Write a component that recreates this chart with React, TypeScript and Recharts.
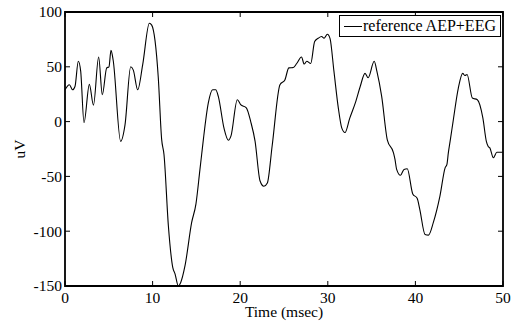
import React from "react";
import { LineChart, Line, XAxis, YAxis, ReferenceArea } from "recharts";

const timeMs = [
  0, 0.5, 0.87, 1.14, 1.52, 1.79, 2.17, 2.78, 3.25, 3.84, 4.26, 4.76, 5.02, 5.25, 5.5,
  6.35, 6.85, 7.5, 7.8, 8.3, 8.87, 9.63, 9.9, 10.65, 11.03, 11.3, 11.8, 12.3, 12.56,
  12.94, 13.2, 13.7, 14.46, 14.95, 15.4, 15.6, 15.8, 16.36, 16.86, 17.2, 17.5, 18.15,
  18.65, 18.95, 19.67, 20.05, 20.7, 21.2, 21.7, 22.26, 22.7, 23.1, 23.65, 24.54, 25.1,
  25.55, 26.06, 26.45, 27.0, 27.3, 27.6, 28.05, 28.5, 28.9, 29.3, 29.57, 29.95, 30.25,
  30.7, 31.2, 31.6, 31.96, 32.5, 33.2, 33.7, 34.25, 34.6, 35.3, 35.6, 36.15, 36.8, 37.5,
  37.67, 37.86, 38.3, 38.7, 39.07, 39.7, 40.2, 40.5, 41.1, 41.5, 42.05, 42.8, 43.4, 43.6,
  43.76, 44.0, 44.3, 44.9, 45.4, 45.66, 45.9, 46.5, 47.07, 47.7, 48.1, 48.3, 48.5, 48.9,
  49.3, 49.96,
];

const aepEeg = [
  29, 33.6, 29, 32, 55, 46, -1, 34, 15, 59, 24.5, 49, 50, 65, 56,
  -18, -3, 50, 47, 29, 52, 89.7, 88, 40, -16, -30, -95, -133, -139,
  -150, -147, -131.5, -92, -75, -44, -30, -16, 17, 29, 29, 23, -6,
  -17, -13, 20, 15.5, 12.5, 0, -18, -54, -59, -56, -22, 33.6, 38,
  49, 49.4, 53, 59, 52.5, 55, 53, 73, 76, 77.6, 76, 79.7, 76,
  46, 12.5, -6, -10, 3, 18.5, 32, 44, 40, 55, 46, 23, -17, -28.5,
  -34.5, -43.6, -49, -43.6, -43, -66, -70, -80, -103, -103.6, -92, -68, -42, -39,
  -28.5, -16, 0, 30.6, 44, 42, 43, 21.5, 20, 3.4, -18, -22.5, -24, -33,
  -28, -28,
];

const xTicks = [0, 10, 20, 30, 40, 50];
const yTicks = [-150, -100, -50, 0, 50, 100];
const seriesName = "reference AEP+EEG";
const xLabel = "Time (msec)";
const yLabel = "uV";

const data = timeMs.map((t, i) => ({ t, v: aepEeg[i] }));

const W = 522;
const H = 329;
const PLOT_LEFT = 65;
const PLOT_RIGHT = 503;
const PLOT_TOP = 12;
const PLOT_BOTTOM = 286;
const TICK_LEN = 5;
const FONT = '"Liberation Serif", "Times New Roman", serif';

const XTick = (props: any) => {
  const { x, payload } = props;
  return (
    <g>
      <line x1={x} x2={x} y1={PLOT_BOTTOM} y2={PLOT_BOTTOM - TICK_LEN} stroke="#000" />
      <line x1={x} x2={x} y1={PLOT_TOP} y2={PLOT_TOP + TICK_LEN} stroke="#000" />
      <text x={x} y={303} textAnchor="middle" fontFamily={FONT} fontSize={15.5} fill="#000">
        {payload.value}
      </text>
    </g>
  );
};

const YTick = (props: any) => {
  const { y, payload } = props;
  return (
    <g>
      <line x1={PLOT_LEFT} x2={PLOT_LEFT + TICK_LEN} y1={y} y2={y} stroke="#000" />
      <line x1={PLOT_RIGHT} x2={PLOT_RIGHT - TICK_LEN} y1={y} y2={y} stroke="#000" />
      <text x={62} y={y + 5.3} textAnchor="end" fontFamily={FONT} fontSize={15.5} fill="#000">
        {payload.value}
      </text>
    </g>
  );
};

export default function App() {
  return (
    <div style={{ position: "absolute", left: 0, top: 0, width: W, height: H, background: "#fff" }}>
      <LineChart
        width={W}
        height={H}
        data={data}
        margin={{ top: PLOT_TOP, right: W - PLOT_RIGHT, left: 0, bottom: 0 }}
      >
        <XAxis
          dataKey="t"
          type="number"
          domain={[0, 50]}
          ticks={xTicks}
          height={H - PLOT_BOTTOM}
          axisLine={false}
          tickLine={false}
          tick={<XTick />}
          interval={0}
        />
        <YAxis
          type="number"
          domain={[-150, 100]}
          ticks={yTicks}
          width={PLOT_LEFT}
          axisLine={false}
          tickLine={false}
          tick={<YTick />}
          interval={0}
          allowDataOverflow
        />
        <ReferenceArea
          x1={0}
          x2={50}
          y1={-150}
          y2={100}
          fill="none"
          fillOpacity={0}
          stroke="#000"
          strokeWidth={1.8}
          ifOverflow="visible"
        />
        <Line
          type="monotone"
          dataKey="v"
          name={seriesName}
          stroke="#000"
          strokeWidth={1.1}
          dot={false}
          isAnimationActive={false}
        />
      </LineChart>
      <svg
        width={W}
        height={H}
        style={{ position: "absolute", left: 0, top: 0, pointerEvents: "none" }}
      >
        <text
          x={284}
          y={316.5}
          textAnchor="middle"
          fontFamily={FONT}
          fontSize={15.5}
          fill="#000"
        >
          {xLabel}
        </text>
        <text
          x={25}
          y={149}
          transform="rotate(-90 25 149)"
          textAnchor="middle"
          fontFamily={FONT}
          fontSize={15.5}
          fill="#000"
        >
          {yLabel}
        </text>
      </svg>
      <div
        style={{
          position: "absolute",
          left: 339,
          top: 15,
          width: 162,
          height: 22,
          boxSizing: "border-box",
          border: "1px solid #000",
          background: "#fff",
          display: "flex",
          alignItems: "center",
          fontFamily: FONT,
          fontSize: 16,
          color: "#000",
          whiteSpace: "nowrap",
        }}
      >
        <div style={{ width: 18, height: 0, borderTop: "1.2px solid #000", marginLeft: 4, marginRight: 1 }} />
        <span>{seriesName}</span>
      </div>
    </div>
  );
}
